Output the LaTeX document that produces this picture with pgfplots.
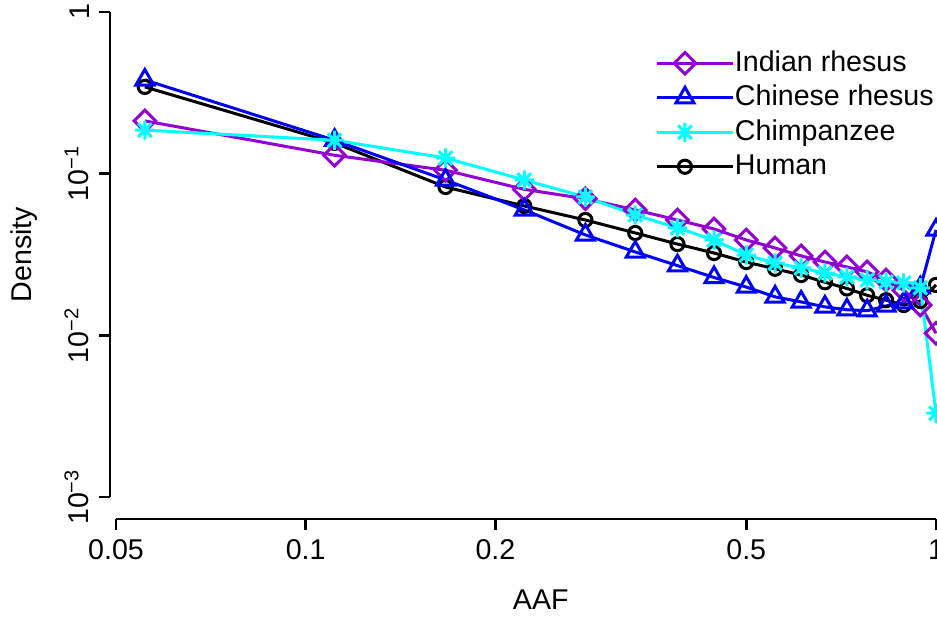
\documentclass[border=0pt]{standalone}
\usepackage{pgfplots}
\pgfplotsset{compat=1.18}
\usepackage{pgfplotstable}
\usepackage{fontspec}
\setmainfont{Liberation Sans}
\definecolor{cviolet}{RGB}{148,0,211}
\definecolor{cblue}{RGB}{0,0,255}
\definecolor{ccyan}{RGB}{0,255,255}
\pgfdeclareplotmark{rstar}{%
  \pgfpathmoveto{\pgfpoint{-\pgfplotmarksize}{0pt}}\pgfpathlineto{\pgfpoint{\pgfplotmarksize}{0pt}}%
  \pgfpathmoveto{\pgfpoint{0pt}{-\pgfplotmarksize}}\pgfpathlineto{\pgfpoint{0pt}{\pgfplotmarksize}}%
  \pgfpathmoveto{\pgfpoint{-0.7071\pgfplotmarksize}{-0.7071\pgfplotmarksize}}\pgfpathlineto{\pgfpoint{0.7071\pgfplotmarksize}{0.7071\pgfplotmarksize}}%
  \pgfpathmoveto{\pgfpoint{-0.7071\pgfplotmarksize}{0.7071\pgfplotmarksize}}\pgfpathlineto{\pgfpoint{0.7071\pgfplotmarksize}{-0.7071\pgfplotmarksize}}%
  \pgfusepathqstroke}
\pgfplotstableread{
x indian chinese chimp human
0.055556 0.212  0.380  0.186  0.344
0.111111 0.130  0.161  0.161  0.155
0.166667 0.105  0.0914 0.125  0.0827
0.222222 0.0800 0.0597 0.0914 0.0631
0.277778 0.0700 0.0418 0.0718 0.0517
0.333333 0.0597 0.0328 0.0555 0.0430
0.388889 0.0517 0.0270 0.0462 0.0367
0.444444 0.0455 0.0228 0.0389 0.0323
0.500000 0.0389 0.0199 0.0314 0.0284
0.555556 0.0347 0.0173 0.0280 0.0258
0.611111 0.0310 0.0161 0.0261 0.0236
0.666667 0.0284 0.0150 0.0243 0.0213
0.722222 0.0265 0.0144 0.0230 0.0195
0.777778 0.0247 0.0142 0.0220 0.0177
0.833333 0.0220 0.0152 0.0214 0.0165
0.888889 0.0190 0.0159 0.0211 0.0154
0.944444 0.0154 0.0197 0.0197 0.0163
1.000000 0.0103 0.0449 0.0033 0.0205
}\datatable
\begin{document}
\fontsize{14.3pt}{17pt}\selectfont
\begin{tikzpicture}
\begin{axis}[
  scale only axis, width=410pt, height=242.5pt,
  xmode=log, ymode=log,
  xmin=0.05, xmax=1, ymin=0.001, ymax=1,
  axis x line*=bottom, axis y line*=left,
  axis x line shift=11pt, axis y line shift=3pt,
  x axis line style={-, line width=1.4pt},
  y axis line style={-, line width=1.4pt},
  clip=false,
  xminorticks=false, yminorticks=false,
  tick align=outside, major tick length=5.5pt,
  every tick/.style={black, line width=1.4pt},
  xtick={0.05,0.1,0.2,0.5,1},
  xticklabels={0.05,0.1,0.2,0.5,1},
  ytick={0.001,0.01,0.1,1},
  yticklabels={10\textsuperscript{−3},10\textsuperscript{−2},10\textsuperscript{−1},1},
  ticklabel style={font=\fontsize{14.3pt}{17pt}\selectfont},
  yticklabel style={rotate=90, anchor=south},
  xlabel={AAF}, ylabel={Density},
  label style={font=\fontsize{14.3pt}{17pt}\selectfont},
  xlabel style={at={(axis description cs:0.518,0)}, anchor=center, yshift=-51.5pt},
  ylabel style={at={(axis description cs:-0.1122,0.5)}, anchor=center},
  legend style={draw=none, fill=none, at={(0.658,0.924)}, anchor=north west,
    font=\fontsize{14.3pt}{17pt}\selectfont, row sep=3.25pt, inner sep=0pt,
    nodes={inner sep=0pt, text height=11pt, text depth=3pt}},
  legend cell align=left,
  legend image code/.code={\path (0pt,0pt) -- (38pt,0pt);\draw[mark repeat=2,mark phase=2] plot coordinates {(0pt,0pt) (13.75pt,0pt) (27.5pt,0pt)};},
]
\addlegendimage{cviolet, line width=1.5pt, mark=square, mark size=3.8pt, mark options={rotate=45, solid}}
\addlegendimage{cblue, line width=1.5pt, mark=triangle, mark size=5.2pt}
\addlegendimage{ccyan, line width=1.5pt, mark=rstar, mark size=4.8pt}
\addlegendimage{black, line width=1.5pt, mark=o, mark size=3.3pt}
\legend{Indian rhesus, Chinese rhesus, Chimpanzee, Human}
\addplot[forget plot, black, line width=1.5pt, mark=o, mark size=3.3pt] table[x=x, y=human] {\datatable};
\addplot[forget plot, cviolet, line width=1.5pt, mark=square, mark size=3.8pt, mark options={rotate=45}] table[x=x, y=indian] {\datatable};
\addplot[forget plot, cblue, line width=1.5pt, mark=triangle, mark size=5.2pt] table[x=x, y=chinese] {\datatable};
\addplot[forget plot, ccyan, line width=1.5pt, mark=rstar, mark size=4.8pt] table[x=x, y=chimp] {\datatable};
\end{axis}
\pgfresetboundingbox
\useasboundingbox (-58pt,-60.5pt) rectangle (410.5pt,248.5pt);
\end{tikzpicture}
\end{document}
